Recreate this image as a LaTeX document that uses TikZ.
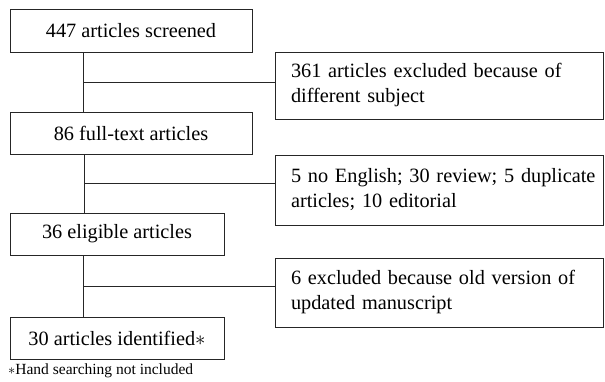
\documentclass[tikz,border=0pt]{standalone}
\usepackage{fontspec}
\setmainfont{Liberation Serif}
\hbadness=10000 \hfuzz=50pt
\begin{document}
\begin{tikzpicture}[x=1pt,y=-1pt,
  lbox/.style={draw=black!85,line width=0.9pt,inner sep=0pt,font=\fontsize{20.3}{24}\selectfont},
  rbox/.style={draw=black!85,line width=0.9pt,inner xsep=16pt,inner ysep=0pt,minimum width=328pt,text width=296pt,align=left,font=\fontsize{20.3}{25}\selectfont},
  conn/.style={draw=black!85,line width=0.9pt}]
\useasboundingbox (0,0) rectangle (605,381);
\node[lbox,minimum width=242pt,minimum height=43pt] (b1) at (131,30.5) {447 articles screened};
\node[lbox,minimum width=242pt,minimum height=42pt] (b2) at (131,133) {86 full-text articles};
\node[lbox,minimum width=214pt,minimum height=42pt] (b3) at (117,234) {36 eligible articles};
\node[lbox,minimum width=214pt,minimum height=42pt] (b4) at (117,338) {30 articles identified$\ast$};
\node[rbox,minimum height=67pt] (r1) at (439,85.5) {\mbox{361 articles excluded because of}\\\mbox{different subject}};
\node[rbox,minimum height=70pt] (r2) at (439,190) {\mbox{5 no English; 30 review; 5 duplicate}\\\mbox{articles; 10 editorial}};
\node[rbox,minimum height=69pt] (r3) at (439,292.5) {\mbox{6 excluded because old version of}\\\mbox{updated manuscript}};
\node[anchor=west,inner sep=0pt,font=\fontsize{15.5}{17}\selectfont] (fn) at (8,371) {$\ast$Hand searching not included};
\coordinate (j1) at (83,82);
\coordinate (j2) at (84,183);
\coordinate (j3) at (83,286);
\draw[conn] (b1.south -| j1) -- (b2.north -| j1);
\draw[conn] (j1) -- (j1 -| r1.west);
\draw[conn] (b2.south -| j2) -- (b3.north -| j2);
\draw[conn] (j2) -- (j2 -| r2.west);
\draw[conn] (b3.south -| j3) -- (b4.north -| j3);
\draw[conn] (j3) -- (j3 -| r3.west);
\end{tikzpicture}
\end{document}
